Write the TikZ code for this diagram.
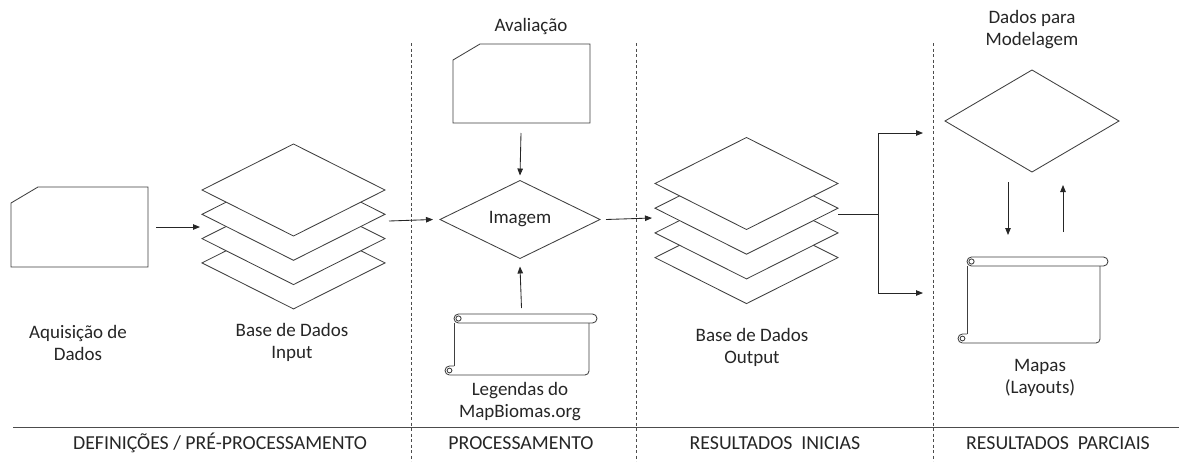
\documentclass[tikz,border=0pt]{standalone}
\usepackage{fontspec}
\setmainfont{Carlito}
\usetikzlibrary{arrows.meta,shapes.geometric,calc}

% card with a clipped top-left corner, drawn around an invisible node
\newcommand\cardshape[1]{%
  \draw[outline] (#1.south west) -- ($(#1.north west)+(0,-16)$)
    -- ($(#1.north west)+(27,0)$) -- (#1.north east) -- (#1.south east) -- cycle;}

% stack of four sheets: centre x, centre y of the top sheet, vertical step
\newcommand\sheetstack[3]{%
  \foreach \k in {3,2,1,0}{%
    \draw[sheet] ({#1-91.5},{#2-\k*#3}) -- (#1,{#2-\k*#3-46})
      -- ({#1+91.5},{#2-\k*#3}) -- (#1,{#2-\k*#3+46}) -- cycle;}}

% horizontal scroll: left, right, top, bottom of the sheet
\newcommand\scrollshape[4]{%
  \draw[outline, rounded corners=4.5pt] (#1,-#3) rectangle ({#2+8},{-#3-9});
  \draw[outline] ({#1+4.5},{-#3-4.5}) circle (2.6pt);
  \draw[outline] (#1,{-#3-9}) -- (#1,{-#4+9});
  \draw[outline, rounded corners=4pt] (#2,{-#3-9}) -- (#2,-#4) -- ({#1-4.5},-#4);
  \draw[outline] ({#1-4.5},-#4) arc[start angle=270, end angle=90, radius=4.5pt]
    -- (#1,{-#4+9});
  \draw[outline] ({#1-4.5},{-#4+4.5}) circle (2.4pt);}

\begin{document}
\begin{tikzpicture}[x=1pt,y=1pt,
  outline/.style={draw=black!75, line width=0.85pt},
  sheet/.style={outline, fill=white},
  arr/.style={draw=black!85, line width=0.85pt, -{Triangle[length=7pt,width=5.5pt]}},
  divider/.style={draw=black!70, line width=0.6pt, dash pattern=on 3pt off 2.5pt},
  rule/.style={draw=black!70, line width=0.8pt},
  lbl/.style={font=\fontsize{19}{22}\selectfont, align=center, text=black!85, inner sep=0pt},
  caption/.style={lbl, font=\fontsize{19.8}{22}\selectfont},
  hidden/.style={inner sep=0pt, outer sep=0pt},
  decision/.style={diamond, outline, inner sep=0pt, outer sep=0pt,
    font=\fontsize{19}{22}\selectfont, text=black!85},
]
\useasboundingbox (0,0) rectangle (1179,-461);
\fill[white] (0,0) rectangle (1179,-461);

% column separators and footer rule
\draw[divider] (411,-43) -- (411,-461);
\draw[divider] (636,-43) -- (636,-461);
\draw[divider] (933,-43) -- (933,-461);
\draw[rule] (13,-427) -- (1179,-427);

% --- definitions / pre-processing
\node[hidden, minimum width=137pt, minimum height=80pt] (aq) at (79.5,-227) {};
\cardshape{aq}
\node[lbl] (aqtxt) at (78,-342.5) {Aquisição de\\Dados};

\node[hidden, minimum width=183pt, minimum height=165pt] (stkin) at (293.5,-226.5) {};
\sheetstack{293.5}{-190}{24.3}
\node[lbl] (stkintxt) at (292,-342.5) {Base de Dados\\Input};

\draw[arr] ([xshift=8pt]aq.east) -- ([xshift=-2pt]stkin.west |- aq.east);

% --- processing
\node[lbl] (avaltxt) at (531,-26) {Avaliação};
\node[hidden, minimum width=137pt, minimum height=79pt] (aval) at (521.5,-83.5) {};
\cardshape{aval}

\node[decision, minimum width=160pt, minimum height=75pt] (img) at (520,-219.5) {Imagem};

\node[hidden, minimum width=135pt, minimum height=61pt] (leg) at (521.5,-344.5) {};
\scrollshape{454}{589}{314}{375}
\node[lbl] (legtxt) at (520,-401.5) {Legendas do\\MapBiomas.org};

\draw[arr] ([xshift=4pt,yshift=5.5pt]stkin.east) -- ([xshift=-7pt]img.west);
\draw[arr] ([xshift=-0.5pt,yshift=-10pt]aval.south) -- ([yshift=5pt]img.north);
\draw[arr] ([yshift=6pt]leg.north) -- ([yshift=-8pt]img.south);

% --- initial results
\node[hidden, minimum width=183pt, minimum height=165pt] (stkout) at (746.5,-220.5) {};
\sheetstack{746.5}{-183.5}{24.7}
\node[lbl] (stkouttxt) at (752,-347.5) {Base de Dados\\Output};

\draw[arr] ([xshift=6pt]img.east) -- ([xshift=-3pt,yshift=2.5pt]stkout.west);

\coordinate (fork) at (878,-214);
\coordinate (upend) at (923,-133);
\coordinate (dnend) at (923,-293);
\draw[outline, draw=black!85] ([yshift=6.5pt]stkout.east) -- (fork);
\draw[outline, draw=black!85] (fork |- upend) -- (fork |- dnend);
\draw[arr] (fork |- upend) -- (upend);
\draw[arr] (fork |- dnend) -- (dnend);

% --- partial results
\node[lbl] (modtxt) at (1032,-30) {Dados para\\Modelagem};
\node[decision, minimum width=174pt, minimum height=102pt] (mod) at (1032,-121) {};

\node[hidden, minimum width=133pt, minimum height=86pt] (maps) at (1033.5,-300) {};
\scrollshape{967}{1100}{257}{343}
\node[lbl] (mapstxt) at (1040,-377.5) {Mapas\\(Layouts)};

\draw[arr] ([xshift=-24pt,yshift=-10pt]mod.south) -- ([xshift=-25.5pt,yshift=22pt]maps.north);
\draw[arr] ([xshift=29.5pt,yshift=25pt]maps.north) -- ([xshift=31pt,yshift=-13pt]mod.south);

% --- footer captions
\node[caption] (c1) at (220,-443) {DEFINIÇÕES / PRÉ-PROCESSAMENTO};
\node[caption] (c2) at (521,-443) {PROCESSAMENTO};
\node[caption] (c3) at (775,-443) {RESULTADOS\hspace{0.45em}INICIAS};
\node[caption] (c4) at (1058,-443) {RESULTADOS\hspace{0.45em}PARCIAIS};
\end{tikzpicture}
\end{document}
